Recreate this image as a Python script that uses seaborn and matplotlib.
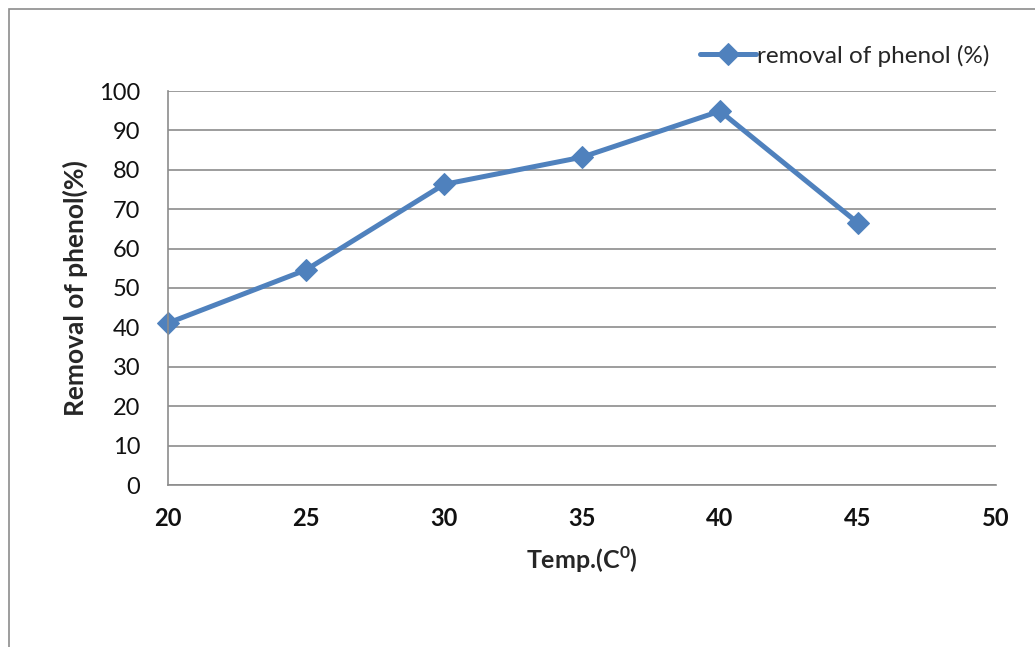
import matplotlib
matplotlib.use("Agg")
import matplotlib.pyplot as plt
import pandas as pd
import seaborn as sns
from matplotlib.patches import Rectangle

# values
temps = [20, 25, 30, 35, 40, 45]
removal = [41.1, 54.6, 76.3, 83.2, 94.9, 66.5]
x_ticks = [20, 25, 30, 35, 40, 45, 50]
y_ticks = [0, 10, 20, 30, 40, 50, 60, 70, 80, 90, 100]

data = pd.DataFrame({"temp": temps, "removal": removal})

sns.set_style("white")
plt.rcParams["font.family"] = ["Lato", "DejaVu Sans"]
plt.rcParams["mathtext.fontset"] = "custom"
plt.rcParams["mathtext.rm"] = "Lato"
plt.rcParams["mathtext.bf"] = "Lato:bold"

fig = plt.figure(figsize=(10.35, 6.47), dpi=100)
ax = fig.add_axes([168 / 1035, 1 - 485 / 647, (996 - 168) / 1035, (485 - 91) / 647])

# outer frame of the chart area
fig.patches.append(Rectangle((9 / 1035, -0.01), 1.2, 1 - 9 / 647 + 0.01,
                             transform=fig.transFigure, fill=False,
                             edgecolor="#8c8c8c", linewidth=1.2))

sns.lineplot(data=data, x="temp", y="removal", ax=ax, color="#4f81bd",
             linewidth=3.6, marker="D", markersize=11, markeredgecolor="#4f81bd",
             label="removal of phenol (%)", clip_on=False)

ax.set_xlim(20, 50)
ax.set_ylim(0, 100)
ax.set_xticks(x_ticks)
ax.set_yticks(y_ticks)
ax.yaxis.grid(True, color="#8c8c8c", linewidth=1.2)
ax.xaxis.grid(False)
for s in ["top", "right"]:
    ax.spines[s].set_visible(False)
for s in ["left", "bottom"]:
    ax.spines[s].set_color("#8c8c8c")
    ax.spines[s].set_linewidth(1.2)
ax.tick_params(axis="y", labelsize=17, length=0, pad=20, labelcolor="#111111")
ax.tick_params(axis="x", labelsize=17, length=0, pad=16, labelcolor="#111111")
for t in ax.get_xticklabels():
    t.set_fontweight("bold")

ax.set_xlabel("Temp.(C$^{\\mathbf{0}}$)", fontsize=18, fontweight="bold", labelpad=10)
ax.set_ylabel("Removal of phenol(%)", fontsize=19, fontweight="bold", labelpad=8)

ax.legend(loc="center left", bbox_to_anchor=(522 / 828, 1.09), frameon=False,
          fontsize=17.5, handlelength=2.3, handletextpad=0.05, borderaxespad=0)

fig.savefig("out.png", dpi=100)
